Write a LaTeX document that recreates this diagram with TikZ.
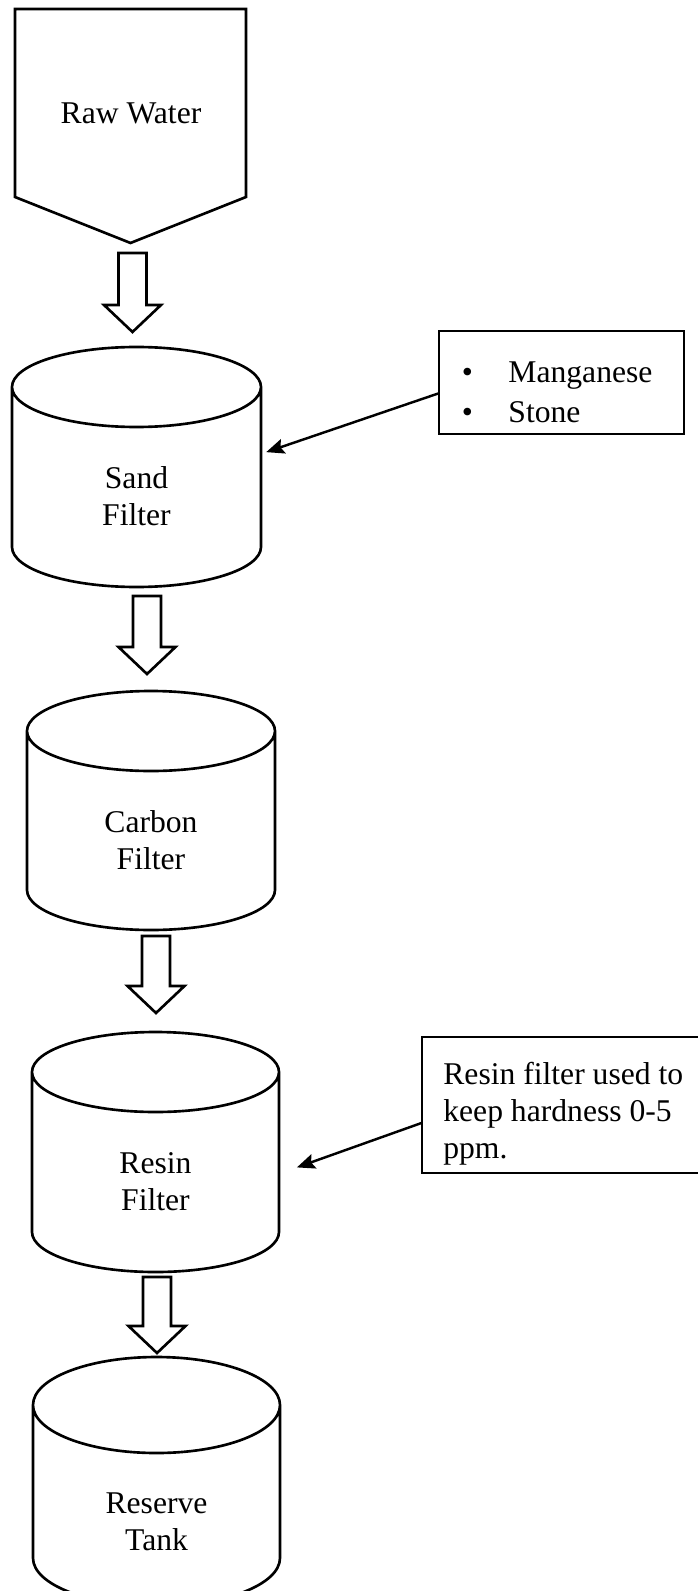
\documentclass[tikz,border=0pt]{standalone}
\usepackage{fontspec}
\setmainfont{Liberation Serif}
\usetikzlibrary{arrows.meta, calc}

\tikzset{
  tankbox/.style={inner sep=0pt, outer sep=0pt},
  outline/.style={line width=1.5pt, line join=miter},
  notebox/.style={draw, line width=0.7pt, inner sep=0pt, outer sep=0pt},
  note/.style={line width=1.4pt, -{Stealth[length=0.36cm, width=0.3cm, inset=0.06cm]}},
  blockarr/.style={line width=1.5pt, line join=miter}
}

\begin{document}
\begin{tikzpicture}[every node/.style={font=\fontsize{18}{21}\selectfont}]
  \useasboundingbox (0,0) rectangle (13.94,-31.82);
  % source
  \node[tankbox, minimum width=4.62cm, minimum height=4.68cm] (raw) at (2.61,-2.52) {};
  \node[inner sep=0pt] (rawtxt) at (2.62,-2.26) {Raw Water};
  \draw[outline] (raw.north west) -- (raw.north east) -- ([yshift=0.92cm]raw.south east)
    -- (raw.south) -- ([yshift=0.92cm]raw.south west) -- cycle;
  % tanks
  \node[tankbox, minimum width=4.98cm, minimum height=4.8cm] (sand) at (2.73,-9.34) {};
  \node[tankbox, minimum width=4.96cm, minimum height=4.78cm] (carbon) at (3.02,-16.21) {};
  \node[tankbox, minimum width=4.94cm, minimum height=4.8cm] (resin) at (3.11,-23.04) {};
  \node[tankbox, minimum width=4.94cm, minimum height=4.98cm] (reserve) at (3.13,-29.63) {};
  \node[inner sep=0pt, align=center] (sandtxt) at (2.73,-9.93) {Sand\\Filter};
  \node[inner sep=0pt, align=center] (carbontxt) at (3.02,-16.8) {Carbon\\Filter};
  \node[inner sep=0pt, align=center] (resintxt) at (3.11,-23.64) {Resin\\Filter};
  \node[inner sep=0pt, align=center] (reservetxt) at (3.13,-30.44) {Reserve\\Tank};
  \foreach \c/\rx/\ry in {sand/2.49/0.8, carbon/2.48/0.8, resin/2.47/0.8, reserve/2.47/0.96}
    \draw[outline] ([yshift=-\ry cm]\c.north) ellipse [x radius=\rx, y radius=\ry]
      ([yshift=-\ry cm]\c.north west) -- ([yshift=\ry cm]\c.south west)
      arc [start angle=180, end angle=360, x radius=\rx, y radius=\ry]
      -- ([yshift=-\ry cm]\c.north east);
  % flow arrows
  \foreach \a/\b/\s/\e/\dx in {raw/sand/0.2/0.3/-0.08, sand/carbon/0.18/0.34/-0.08,
                               carbon/resin/0.12/0.38/0.01, resin/reserve/0.1/0.08/0.01}
    \draw[blockarr] let \p1=($(\a.south)+(0,-\s)$), \p2=($(\b.north)+(\dx,\e)$) in
      (\x2-0.28cm,\y1) -- (\x2+0.28cm,\y1) -- (\x2+0.28cm,\y2+0.54cm) -- (\x2+0.57cm,\y2+0.54cm)
      -- (\x2,\y2) -- (\x2-0.57cm,\y2+0.54cm) -- (\x2-0.28cm,\y2+0.54cm) -- cycle;
  % notes
  \node[notebox, minimum width=4.9cm, minimum height=2.06cm] (media) at (11.23,-7.65) {};
  \node[inner sep=0pt, anchor=west, align=left] (mediatxt) at (9.23,-7.84)
    {\textbullet\hspace{0.71cm}Manganese\\[1.7pt] \textbullet\hspace{0.71cm}Stone};
  \node[notebox, minimum width=5.8cm, minimum height=2.72cm] (hardness) at (11.34,-22.1) {};
  \node[inner sep=0pt, anchor=west, align=left] (hardnesstxt) at (8.86,-22.28)
    {Resin filter used to\\ keep hardness 0-5\\ ppm.};
  \draw[note, shorten >=0.11cm] (media.185) -- (sand.6);
  \draw[note, shorten >=0.38cm] (hardness.187) -- (resin.350);
\end{tikzpicture}
\end{document}
